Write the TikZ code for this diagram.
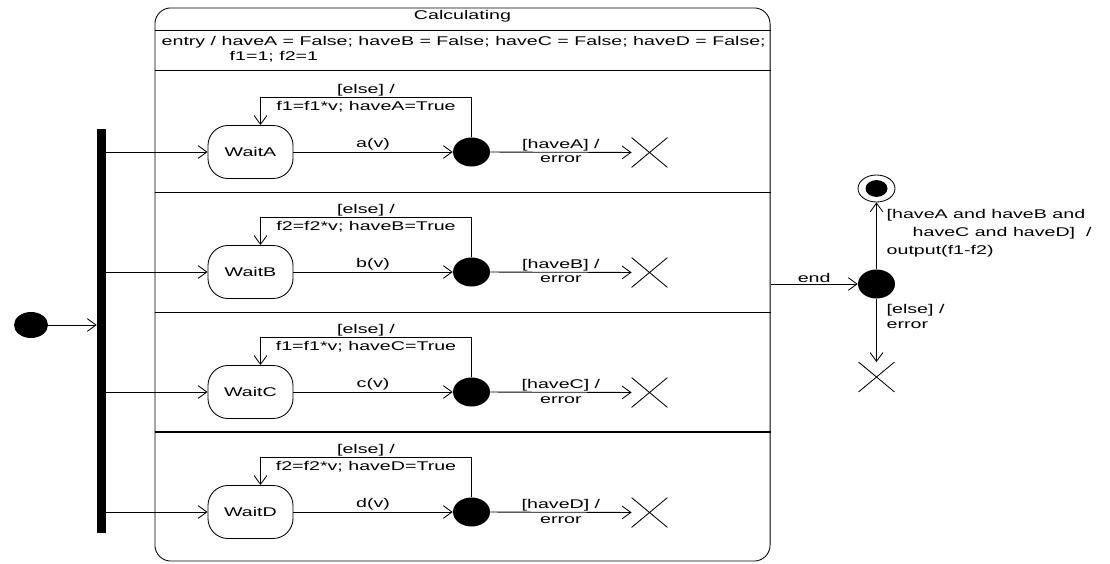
\documentclass[tikz,border=0pt]{standalone}
\usepackage{fontspec}
\setmainfont{Liberation Sans}[FakeStretch=1.55]
\usetikzlibrary{arrows.meta,positioning,shapes.geometric,shapes.misc}

\begin{document}
\begin{tikzpicture}[
    x=0.025cm, y=-0.025cm,
    font=\fontsize{9}{10.5}\selectfont,
    inner sep=1pt,
    composite/.style={draw, rounded corners=0.4cm, line width=0.6pt, minimum width=15.375cm, minimum height=13.825cm},
    wait/.style={draw, rounded corners=0.5cm, line width=0.6pt, minimum width=2.125cm, minimum height=1.325cm},
    choice/.style={ellipse, fill=black, minimum width=0.925cm, minimum height=0.725cm, inner sep=0pt},
    initial/.style={ellipse, fill=black, minimum width=0.85cm, minimum height=0.65cm, inner sep=0pt},
    forkbar/.style={fill=black, minimum width=0.225cm, minimum height=10.1cm, inner sep=0pt},
    term/.style={cross out, draw, line width=0.6pt, minimum width=0.875cm, minimum height=0.725cm, inner sep=0pt},
    final/.style={ellipse, draw, line width=0.6pt, minimum width=0.925cm, minimum height=0.675cm, inner sep=0pt},
    finalin/.style={ellipse, fill=black, minimum width=0.55cm, minimum height=0.42cm, inner sep=0pt},
    tr/.style={-{Straight Barb[length=0.22cm, width=0.32cm]}, line width=0.6pt},
    sep/.style={line width=0.6pt},
    up/.style={above, inner sep=0.3pt},
    down/.style={below, inner sep=2.5pt}
]
\useasboundingbox (0,0) rectangle (1110,564);

% composite state
\node[composite] (calc) at (462.5,284.5) {};
\node[below=1pt of calc.north] (title) {Calculating};
\node[anchor=west, align=left] (entry) at (160,49.5) {entry / haveA = False; haveB = False; haveC = False; haveD = False;\\\hspace*{1.7cm}f1=1; f2=1};
\draw[sep] (calc.west |- 0,30) -- (calc.east |- 0,30);
\draw[sep] (calc.west |- 0,70) -- (calc.east |- 0,70);
\draw[sep] (calc.west |- 0,192) -- (calc.east |- 0,192);
\draw[sep] (calc.west |- 0,312) -- (calc.east |- 0,312);
\draw[line width=1.2pt] (calc.west |- 0,432) -- (calc.east |- 0,432);

% fork
\node[forkbar] (fork) at (101.5,331) {};
\node[initial] (init) at (31,325) {};
\draw[tr] (init) -- (fork.west |- init);

% region A
\node[wait] (waitA) at (250.5,152) {WaitA};
\node[choice] (chA) at (471.5,152) {};
\node[term] (killA) at (649.5,152.5) {};
\draw[tr] (fork.east |- waitA) -- (waitA);
\draw[tr] (waitA) -- (chA) node[midway, above] {a(v)};
\draw[tr] (chA) -- (killA) node[midway, up] {[haveA] /} node[midway, down] {error};
\draw[tr] (chA.north) -- ++(0,-40) -| ([xshift=0.25cm]waitA.north)
    node[pos=0.25, up] {[else] /} node[pos=0.25, down] {f1=f1*v; haveA=True};

% region B
\node[wait] (waitB) at (250.5,272) {WaitB};
\node[choice] (chB) at (471.5,272) {};
\node[term] (killB) at (649.5,272.5) {};
\draw[tr] (fork.east |- waitB) -- (waitB);
\draw[tr] (waitB) -- (chB) node[midway, above] {b(v)};
\draw[tr] (chB) -- (killB) node[midway, up] {[haveB] /} node[midway, down] {error};
\draw[tr] (chB.north) -- ++(0,-40) -| ([xshift=0.25cm]waitB.north)
    node[pos=0.25, up] {[else] /} node[pos=0.25, down] {f2=f2*v; haveB=True};

% region C
\node[wait] (waitC) at (250.5,392) {WaitC};
\node[choice] (chC) at (471.5,392) {};
\node[term] (killC) at (649.5,392.5) {};
\draw[tr] (fork.east |- waitC) -- (waitC);
\draw[tr] (waitC) -- (chC) node[midway, above] {c(v)};
\draw[tr] (chC) -- (killC) node[midway, up] {[haveC] /} node[midway, down] {error};
\draw[tr] (chC.north) -- ++(0,-40) -| ([xshift=0.25cm]waitC.north)
    node[pos=0.25, up] {[else] /} node[pos=0.25, down] {f1=f1*v; haveC=True};

% region D
\node[wait] (waitD) at (250.5,512) {WaitD};
\node[choice] (chD) at (471.5,512) {};
\node[term] (killD) at (649.5,512.5) {};
\draw[tr] (fork.east |- waitD) -- (waitD);
\draw[tr] (waitD) -- (chD) node[midway, above] {d(v)};
\draw[tr] (chD) -- (killD) node[midway, up] {[haveD] /} node[midway, down] {error};
\draw[tr] (chD.north) -- ++(0,-40) -| ([xshift=0.25cm]waitD.north)
    node[pos=0.25, up] {[else] /} node[pos=0.25, down] {f2=f2*v; haveD=True};

% completion
\node[choice] (merge) at (876.5,284) {};
\node[final] (done) at (876.5,188.5) {};
\node[finalin] (doneIn) at (done) {};
\node[term] (fail) at (876.5,377) {};
\draw[tr] (calc.east |- merge) -- (merge) node[midway, above] {end};
\draw[tr] (merge) -- (done);
\draw[tr] (merge) -- (fail);
\node[anchor=north west, align=left, font=\fontsize{9}{12.5}\selectfont] (guardOk) at (885,208)
    {[haveA and haveB and\\\hspace*{0.65cm}haveC and haveD]~~/\\output(f1-f2)};
\node[anchor=north west, align=left] (guardElse) at (885,303) {[else] /\\error};
\end{tikzpicture}
\end{document}
